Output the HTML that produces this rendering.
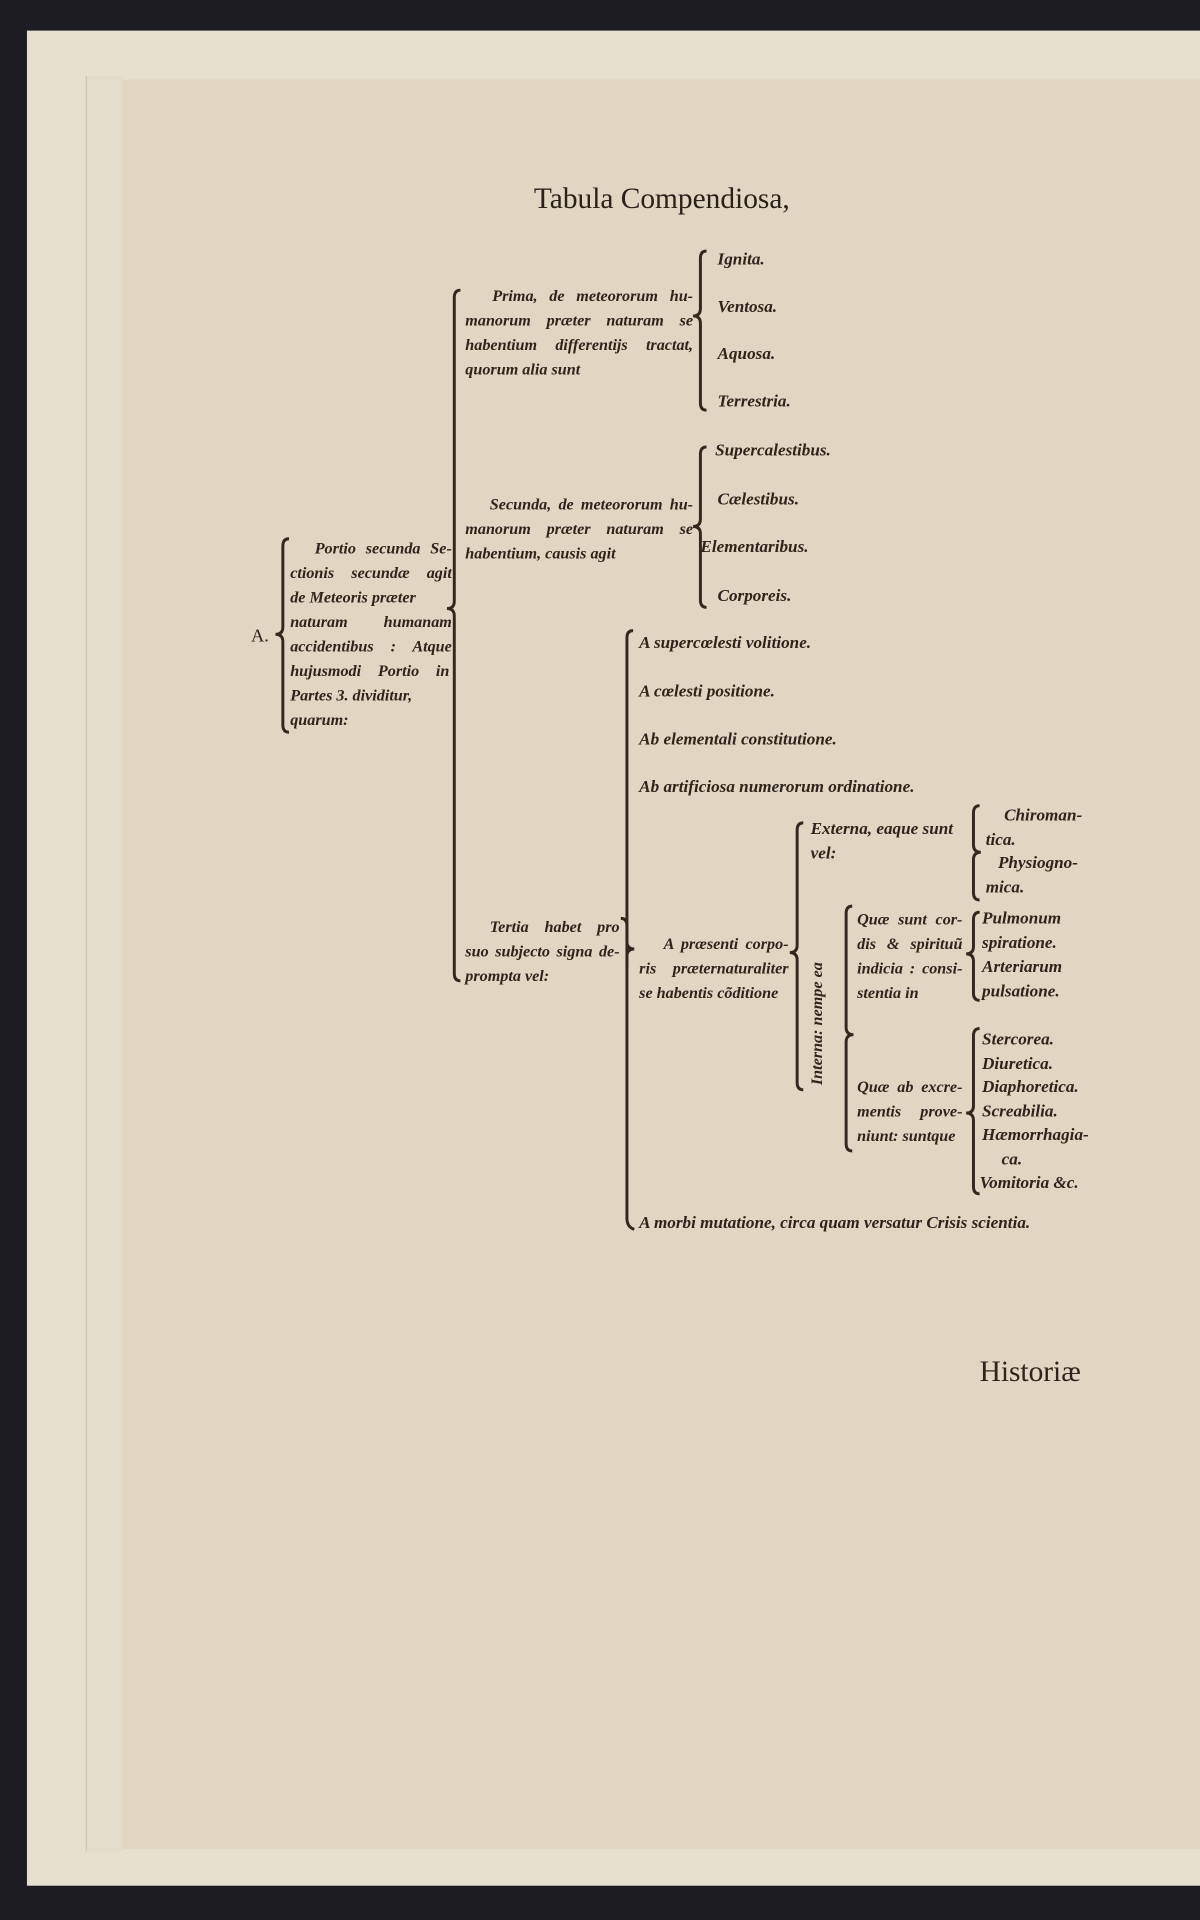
<!DOCTYPE html>
<html><head><meta charset="utf-8"><style>
html,body{margin:0;padding:0;background:#1c1c22;}
#wrap{position:absolute;left:0;top:0;width:980px;height:1568px;transform:scale(1.22449);transform-origin:0 0;overflow:hidden;background:#1c1c22;}
.outer{position:absolute;left:22px;top:25px;width:970px;height:1515px;background:#e6e0d0;}
.strip{position:absolute;left:70px;top:62px;width:30px;height:1450px;background:#e2dccb;border-left:1px solid #cfc8b5;}
.page{position:absolute;left:100px;top:65px;width:890px;height:1445px;background:#e0d6c2;}
.t{position:absolute;font-family:"Liberation Serif",serif;font-style:italic;font-size:14px;line-height:20px;color:#2e241b;white-space:nowrap;font-weight:bold;}
.j{text-align:justify;text-align-last:justify;white-space:normal;font-size:13.2px;height:20px;overflow:hidden;}
svg{position:absolute;left:0;top:0;}
</style></head><body><div id="wrap">
<div class="outer"></div><div class="strip"></div><div class="page"></div>
<div class="t" style="left:436px;top:148px;font-size:24px;font-style:normal;font-weight:normal;color:#2a2119;line-height:30px">Tabula Compendiosa,</div>
<svg width="980" height="1568" fill="none" stroke="#33281e" stroke-width="2.4">
<path d="M577 205 Q572 205 572 211 L572 252 Q572 258 566 258 Q572 258 572 264 L572 329 Q572 335 577 335"/>
<path d="M577 365 Q572 365 572 371 L572 424 Q572 430 566 430 Q572 430 572 436 L572 490 Q572 496 577 496"/>
<path d="M376 237 Q371 237 371 243 L371 491 Q371 497 365 497 Q371 497 371 503 L371 795 Q371 801 376 801"/>
<path d="M236 440 Q231 440 231 446 L231 512 Q231 518 225 518 Q231 518 231 524 L231 592 Q231 598 236 598"/>
<path d="M507 750 Q512 750 512 756 L512 769 Q512 775 518 775 Q512 775 512 781 L512 790"/>
<path d="M517 515 Q512 515 512 521 L512 995 Q512 1002 518 1004"/>
<path d="M656 672 Q651 672 651 678 L651 772 Q651 778 645 778 Q651 778 651 784 L651 884 Q651 890 656 890"/>
<path d="M696 740 Q691 740 691 746 L691 839 Q691 845 697 845 Q691 845 691 851 L691 934 Q691 940 696 940"/>
<path d="M800 658 Q795 658 795 664 L795 690 Q795 696 801 696 Q795 696 795 702 L795 729 Q795 735 800 735"/>
<path d="M800 745 Q795 745 795 751 L795 773 Q795 779 789 779 Q795 779 795 785 L795 811 Q795 817 800 817"/>
<path d="M800 840 Q795 840 795 846 L795 903 Q795 909 789 909 Q795 909 795 915 L795 969 Q795 975 800 975"/>
</svg>
<div class="t" style="left:205px;top:510px;font-style:normal;font-weight:normal;font-size:15px">A.</div>
<div class="t j" style="left:237px;top:438px;width:132px;text-indent:20px">Portio secunda Se-</div>
<div class="t j" style="left:237px;top:458px;width:132px">ctionis secundæ agit</div>
<div class="t" style="left:237px;top:478px;font-size:13.2px">de Meteoris præter</div>
<div class="t j" style="left:237px;top:498px;width:132px">naturam humanam</div>
<div class="t j" style="left:237px;top:518px;width:132px">accidentibus : Atque</div>
<div class="t j" style="left:237px;top:538px;width:130px">hujusmodi Portio in</div>
<div class="t" style="left:237px;top:558px;font-size:13.2px">Partes 3. dividitur,</div>
<div class="t" style="left:237px;top:578px;font-size:13.2px">quarum:</div>

<div class="t j" style="left:380px;top:232px;width:186px;text-indent:22px">Prima, de meteororum hu-</div>
<div class="t j" style="left:380px;top:252px;width:186px">manorum præter naturam se</div>
<div class="t j" style="left:380px;top:272px;width:186px">habentium differentijs tractat,</div>
<div class="t" style="left:380px;top:292px;font-size:13.2px">quorum alia sunt</div>
<div class="t" style="left:586px;top:203px">Ignita.</div>
<div class="t" style="left:586px;top:242px">Ventosa.</div>
<div class="t" style="left:586px;top:280px">Aquosa.</div>
<div class="t" style="left:586px;top:319px">Terrestria.</div>

<div class="t j" style="left:380px;top:402px;width:186px;text-indent:20px">Secunda, de meteororum hu-</div>
<div class="t j" style="left:380px;top:422px;width:186px">manorum præter naturam se</div>
<div class="t" style="left:380px;top:442px;font-size:13.2px">habentium, causis agit</div>
<div class="t" style="left:584px;top:359px">Supercalestibus.</div>
<div class="t" style="left:586px;top:399px">Cælestibus.</div>
<div class="t" style="left:572px;top:438px">Elementaribus.</div>
<div class="t" style="left:586px;top:478px">Corporeis.</div>

<div class="t j" style="left:380px;top:747px;width:126px;text-indent:20px">Tertia habet pro</div>
<div class="t j" style="left:380px;top:767px;width:126px">suo subjecto signa de-</div>
<div class="t" style="left:380px;top:787px;font-size:13.2px">prompta vel:</div>

<div class="t" style="left:522px;top:516px">A supercœlesti volitione.</div>
<div class="t" style="left:522px;top:556px">A cœlesti positione.</div>
<div class="t" style="left:522px;top:595px">Ab elementali constitutione.</div>
<div class="t" style="left:522px;top:634px">Ab artificiosa numerorum ordinatione.</div>
<div class="t j" style="left:522px;top:761px;width:122px;text-indent:20px">A præsenti corpo-</div>
<div class="t j" style="left:522px;top:781px;width:122px">ris præternaturaliter</div>
<div class="t" style="left:522px;top:801px;font-size:13.2px">se habentis cõditione</div>
<div class="t" style="left:522px;top:990px">A morbi mutatione, circa quam versatur Crisis scientia.</div>

<div class="t" style="left:662px;top:668px">Externa, eaque sunt</div>
<div class="t" style="left:662px;top:688px">vel:</div>
<div class="t" style="left:610px;top:826px;transform:rotate(-90deg);width:115px;text-align:center;font-size:13.2px">Interna: nempe ea</div>

<div class="t j" style="left:700px;top:741px;width:86px">Quæ sunt cor-</div>
<div class="t j" style="left:700px;top:761px;width:86px">dis &amp; spirituũ</div>
<div class="t j" style="left:700px;top:781px;width:86px">indicia : consi-</div>
<div class="t" style="left:700px;top:801px;font-size:13.2px">stentia in</div>
<div class="t j" style="left:700px;top:878px;width:86px">Quæ ab excre-</div>
<div class="t j" style="left:700px;top:898px;width:86px">mentis prove-</div>
<div class="t" style="left:700px;top:918px;font-size:13.2px">niunt: suntque</div>

<div class="t" style="left:820px;top:657px">Chiroman-</div>
<div class="t" style="left:805px;top:677px">tica.</div>
<div class="t" style="left:815px;top:696px">Physiogno-</div>
<div class="t" style="left:805px;top:716px">mica.</div>
<div class="t" style="left:802px;top:741px">Pulmonum</div>
<div class="t" style="left:802px;top:761px">spiratione.</div>
<div class="t" style="left:802px;top:781px">Arteriarum</div>
<div class="t" style="left:802px;top:801px">pulsatione.</div>
<div class="t" style="left:802px;top:840px">Stercorea.</div>
<div class="t" style="left:802px;top:860px">Diuretica.</div>
<div class="t" style="left:802px;top:879px">Diaphoretica.</div>
<div class="t" style="left:802px;top:899px">Screabilia.</div>
<div class="t" style="left:802px;top:918px">Hæmorrhagia-</div>
<div class="t" style="left:818px;top:938px">ca.</div>
<div class="t" style="left:800px;top:957px">Vomitoria &amp;c.</div>

<div class="t" style="left:800px;top:1106px;font-style:normal;font-weight:normal;font-size:24px;line-height:30px">Historiæ</div>
</div></body></html>
